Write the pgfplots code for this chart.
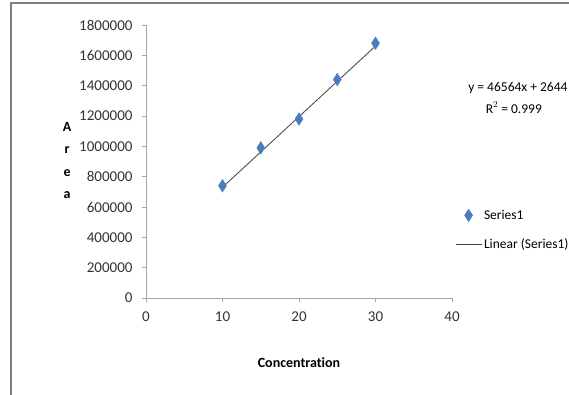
\documentclass[border=0pt]{standalone}
\usepackage{pgfplots}
\pgfplotsset{compat=1.18}
\usepackage{fontspec}
\setmainfont[Ligatures={NoCommon}]{Carlito}
\definecolor{serblue}{HTML}{4A7EBB}
\definecolor{axgray}{HTML}{A6A6A6}
\definecolor{framegray}{HTML}{7F7F7F}
\pgfplotsset{
  diamlegend/.style={legend image code/.code={\draw[mark repeat=2,mark phase=2,##1] plot coordinates {(0pt,0pt) (13pt,0pt) (26pt,0pt)};}},
  linelegend/.style={legend image code/.code={\draw[##1] (0pt,0pt) -- (26pt,0pt);}},
}
\begin{document}
\begin{tikzpicture}[x=1pt,y=1pt]
\useasboundingbox (0,0) rectangle (569,395);
\clip (0,0) rectangle (569,395);
\fill[white] (0,0) rectangle (569,395);
\draw[framegray, line width=1.3pt] (11,-5) -- (11,392) -- (575,392);
\begin{axis}[
  at={(146pt,97pt)}, anchor=south west,
  scale only axis, width=306pt, height=273pt,
  xmin=0, xmax=40, ymin=0, ymax=1800000,
  xtick={0,10,...,40}, ytick={0,200000,...,1800000},
  axis lines*=left,
  axis line style={axgray, line width=0.6pt},
  tick style={axgray, line width=0.6pt},
  major tick length=4pt,
  tick align=outside,
  scaled y ticks=false,
  yticklabel style={/pgf/number format/fixed, /pgf/number format/1000 sep={}, font=\fontsize{15}{17}\selectfont, text=black!80, xshift=-6pt},
  xticklabel style={font=\fontsize{15}{17}\selectfont, text=black!80, yshift=-6pt},
  /pgf/number format/assume math mode=true,
  clip=false,
  legend style={draw=none, fill=none, at={(1.0098,0.249)}, anchor=west, inner sep=0pt, row sep=14pt, font=\fontsize{13.5}{15}\selectfont, cells={anchor=west}},
]
\addplot[only marks, mark=diamond*, mark size=6.3pt, mark options={fill=serblue, draw=serblue, xscale=0.85}, diamlegend]
  coordinates {(10,740000) (15,990000) (20,1180000) (25,1440000) (30,1680000)};
\addlegendentry{Series1}
\addplot[black!75, line width=0.8pt, no marks, linelegend]
  coordinates {(10,730040) (30,1661320)};
\addlegendentry{Linear (Series1)}
\node[font=\fontsize{14}{15}\selectfont\bfseries, anchor=center] at (rel axis cs:0.5,-0.238) {Concentration};
\node[font=\fontsize{14}{22.5}\selectfont\bfseries, align=center, anchor=center] at (rel axis cs:-0.258,0.504) {A\\r\\e\\a};
\node[font=\fontsize{13.5}{15}\selectfont, anchor=east, inner sep=0pt] at (rel axis cs:1.378,0.77) {y = 46564x + 2644};
\node[font=\fontsize{13.5}{15}\selectfont, anchor=west, inner sep=0pt] at (rel axis cs:1.11,0.697) {R$^2$ = 0.999};
\end{axis}
\end{tikzpicture}
\end{document}
